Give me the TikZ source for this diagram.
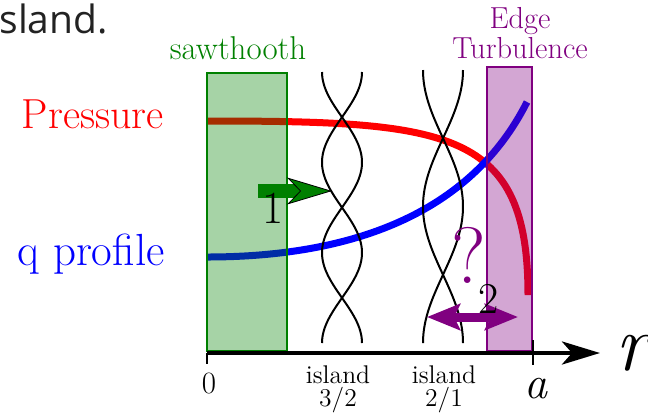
\documentclass[tikz,border=0pt]{standalone}
\usepackage{fontspec}
\usetikzlibrary{arrows.meta}
\newfontfamily\diapo{Open Sans}
\definecolor{verde}{rgb}{0,0.5,0}
\definecolor{morado}{rgb}{0.5,0,0.5}
\definecolor{rojo}{rgb}{1,0,0}
\definecolor{azul}{rgb}{0,0,1}
\definecolor{grisTexto}{HTML}{222222}
\newcommand{\tam}[2]{\fontsize{#1}{#2}\selectfont}

\begin{document}
\begin{tikzpicture}[
    x=0.5pt, y=-0.5pt,
    zona/.style={line width=1pt, fill opacity=0.35},
    sierra/.style={zona, fill=verde, draw=verde},
    turb/.style={zona, fill=morado, draw=morado},
    perfil/.style={line width=3.5pt},
    isla/.style={line width=1pt, black},
    eje/.style={line width=2.2pt, -{Stealth[length=19pt, width=11.5pt, inset=5pt]}},
    marca/.style={line width=1pt},
    flechaUno/.style={line width=7pt, verde,
        -{Stealth[length=22.5pt, width=13.5pt, inset=6.5pt, fill=verde, color=black, line width'=0.4pt]}},
    flechaDos/.style={line width=4.5pt, morado,
        {Stealth[length=16.5pt, width=13pt, inset=3pt]}-{Stealth[length=16.5pt, width=13pt, inset=3pt]}},
    etiq/.style={inner sep=0pt, anchor=base, align=center},
]

\useasboundingbox (0,0) rectangle (648,414);

\draw[perfil, rojo] (207,121) .. controls (450,121) and (528,130) .. (528,295);
\draw[perfil, azul] (207,257) .. controls (350,257) and (470,215) .. (527,102);

\draw[sierra] (207,73) rectangle (287,351);
\draw[turb]   (487,67) rectangle (532,351);

\foreach \s in {1,-1} {
    \draw[isla] plot[domain=72:343, samples=90, smooth] ({342+\s*20*cos(1.9923*(\x-72))}, \x);
    \draw[isla] plot[domain=70:343, samples=90, smooth] ({443+\s*20*cos(1.3187*(\x-70))}, \x);
}

\coordinate (o)   at (207,353);
\coordinate (fin) at (600,353);
\draw[eje] (o) -- (fin);
\draw[marca] (207,353) -- (207,364);
\draw[marca] (533,340) -- (533,365);

\coordinate (u1) at (258,191);
\coordinate (u2) at (332,191);
\draw[flechaUno] (u1) -- (u2);
\coordinate (d1) at (427,317);
\coordinate (d2) at (518,317);
\draw[flechaDos] (d1) -- (d2);

\node[etiq, font=\diapo\tam{19.5}{23}, text=grisTexto, anchor=base west] (isla) at (-1,33) {sland.};
\node[etiq, font=\tam{21}{25}, text=rojo, anchor=base east]  (presion) at (164,128) {Pressure};
\node[etiq, font=\tam{22.5}{27}, text=azul, anchor=base east]  (perfilq) at (165,265) {q profile};
\node[etiq, font=\tam{16.5}{19}, text=verde]   (sierra) at (238,59) {sawthooth};
\node[etiq, font=\tam{15.2}{13}, text=morado] (borde) at (520,58) {Edge\\Turbulence};
\node[etiq, font=\tam{15.5}{18}] (cero)  at (209,393) {0};
\node[etiq, font=\itshape\tam{23}{27}]   (radio) at (536,398) {a};
\node[etiq, font=\itshape\tam{40}{48}, anchor=base west] (r) at (615,370) {r};
\node[etiq, font=\tam{12.8}{11.5}] (isla32) at (338,406) {island\\3/2};
\node[etiq, font=\tam{12.8}{11.5}] (isla21) at (444,406) {island\\2/1};
\node[etiq, font=\tam{23}{27}] (uno)  at (273,223) {1};
\node[etiq, font=\tam{22}{26}] (dos)  at (489,313) {2};
\node[etiq, font=\tam{40}{48}, text=morado] (duda) at (469,283) {?};

\end{tikzpicture}
\end{document}
